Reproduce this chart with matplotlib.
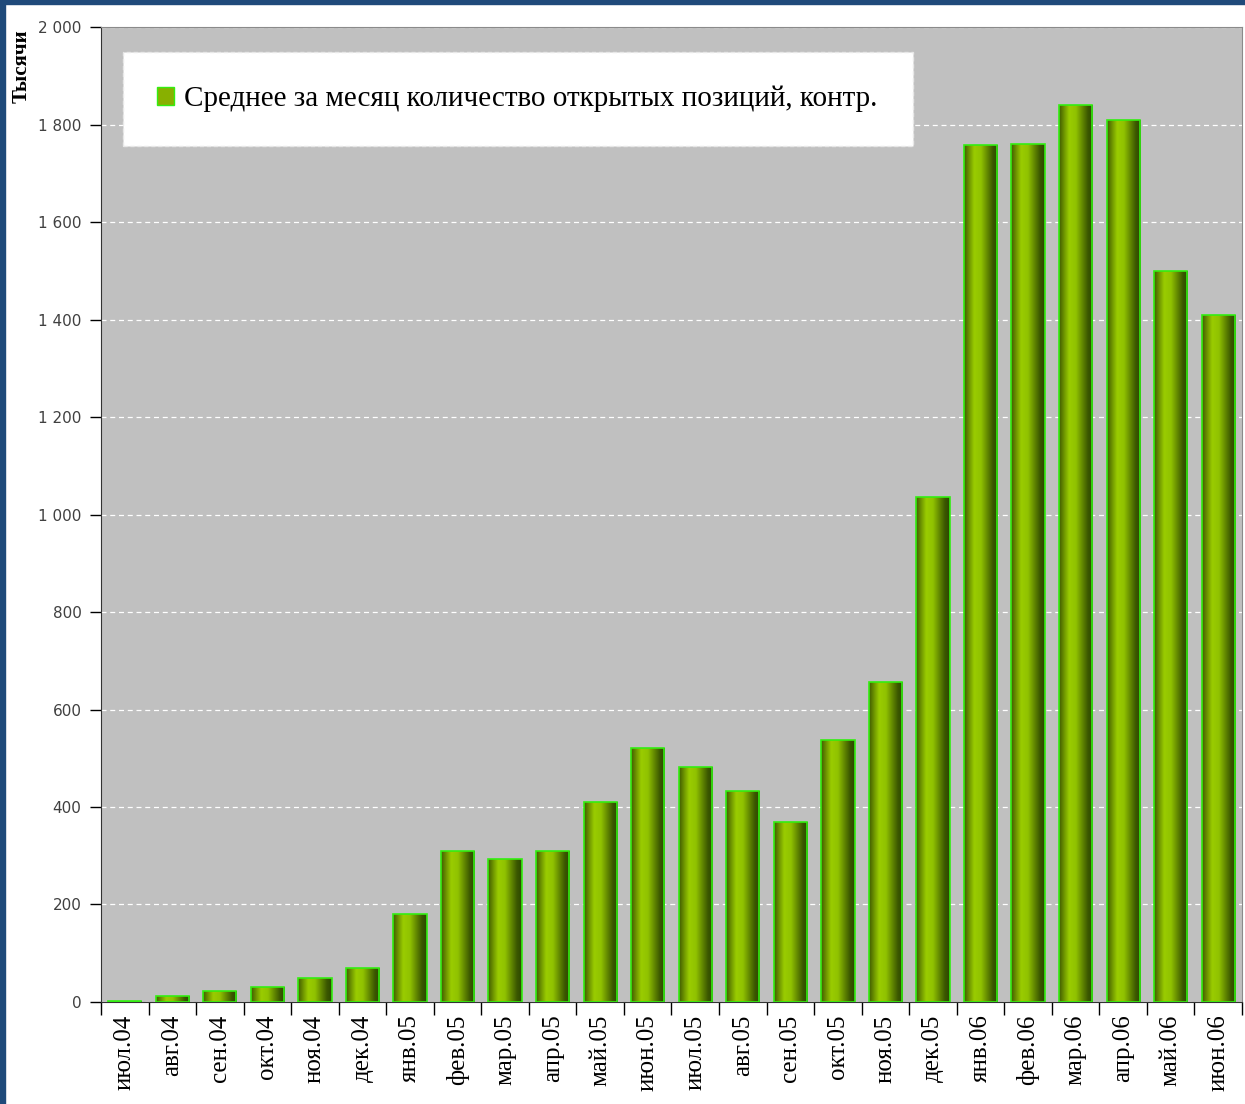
import numpy as np
import matplotlib
matplotlib.use('Agg')
import matplotlib.pyplot as plt
from matplotlib.colors import LinearSegmentedColormap
from matplotlib.patches import Rectangle, Patch
from matplotlib.ticker import FuncFormatter, MultipleLocator

# данные
months = ['июл.04', 'авг.04', 'сен.04', 'окт.04', 'ноя.04', 'дек.04',
          'янв.05', 'фев.05', 'мар.05', 'апр.05', 'май.05', 'июн.05',
          'июл.05', 'авг.05', 'сен.05', 'окт.05', 'ноя.05', 'дек.05',
          'янв.06', 'фев.06', 'мар.06', 'апр.06', 'май.06', 'июн.06']
values = [2, 12, 22, 30, 49, 70,
          181, 310, 294, 310, 411, 522,
          483, 433, 370, 538, 657, 1035,
          1758, 1760, 1840, 1809, 1499, 1409]
legend_label = 'Среднее за месяц количество открытых позиций, контр.'
y_label = 'Тысячи'

serif = ['Liberation Serif', 'DejaVu Serif']

fig = plt.figure(figsize=(12.45, 11.04), dpi=100)
fig.patch.set_facecolor('white')
ax = fig.add_axes([0.0811, 0.0924, 0.9165, 0.8831])
ax.set_facecolor('#c0c0c0')

# градиент как у цилиндра
cmap = LinearSegmentedColormap.from_list('cyl', [
    (0.0, '#405a00'), (0.3, '#9acc00'), (0.5, '#90c200'),
    (0.85, '#3c5800'), (1.0, '#2b4600')])
grad = np.linspace(0, 1, 256).reshape(1, -1)

x = np.arange(len(months))
width = 0.7
bars = ax.bar(x, values, width=width, color='none', edgecolor='#33ee11', lw=1.2, zorder=4)
for b in bars:
    x0 = b.get_x()
    h = b.get_height()
    im = ax.imshow(grad, cmap=cmap, extent=[x0, x0 + width, 0, h],
                   aspect='auto', zorder=3, interpolation='bilinear')
    im.set_clip_path(b)

ax.set_aspect('auto')
ax.set_xlim(-0.5, len(months) - 0.5)
ax.set_ylim(0, 2000)

# сетка
ax.yaxis.set_major_locator(MultipleLocator(200))
ax.grid(axis='y', color='white', ls=(0, (4, 3)), lw=0.9, zorder=1)
ax.set_axisbelow(True)

ax.yaxis.set_major_formatter(FuncFormatter(lambda v, p: '{:,.0f}'.format(v).replace(',', ' ')))
ax.tick_params(axis='y', labelsize=11, labelcolor='#404040', length=8, width=1, direction='out', pad=6)
for t in ax.get_yticklabels():
    t.set_family(['DejaVu Sans'])

ax.set_xticks(x)
ax.set_xticklabels(months, rotation=90, fontsize=18, family=serif)
ax.set_xticks(np.arange(len(months) + 1) - 0.5, minor=True)
ax.tick_params(axis='x', which='major', length=0, pad=9)
ax.tick_params(axis='x', which='minor', length=9, width=1)

for s in ['left', 'bottom']:
    ax.spines[s].set_color('#333333')
for s in ['top', 'right']:
    ax.spines[s].set_color('#8a8a8a')

fig.text(22 / 1245, 1 - 29 / 1104, y_label, rotation=90, va='top', ha='center',
         fontsize=15, fontweight='bold', family=serif)

# легенда
handle = Patch(facecolor='#88b000', edgecolor='#33ee11', lw=1)
leg = ax.legend([handle], [legend_label], loc='upper left',
                bbox_to_anchor=(0.0193, 0.879, 0.692, 0.0954), mode='expand',
                prop={'family': serif, 'size': 21}, borderpad=1.15,
                handlelength=0.6, handleheight=0.6, handletextpad=0.35,
                fancybox=False, framealpha=1, borderaxespad=0)
leg.get_frame().set_edgecolor('#e8e8e8')
leg.get_frame().set_linestyle((0, (3, 2)))
leg.set_zorder(6)

# рамка
fig.patches.append(Rectangle((0, 0), 5 / 1245, 1, transform=fig.transFigure,
                             color='#1f4a7a', zorder=10))
fig.patches.append(Rectangle((0, 1 - 4 / 1104), 1, 4 / 1104, transform=fig.transFigure,
                             color='#1f4a7a', zorder=10))

fig.savefig('out.png', dpi=100)
